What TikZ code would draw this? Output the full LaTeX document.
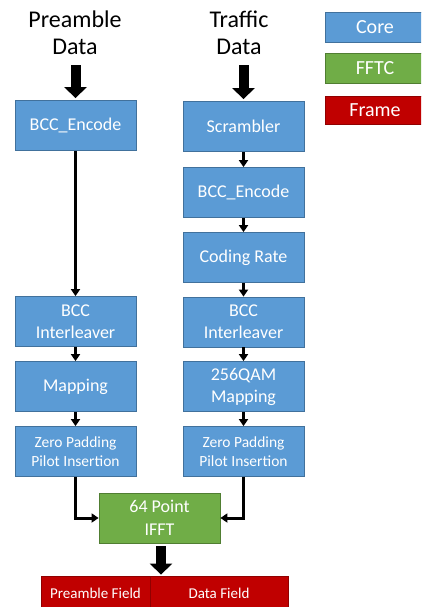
\documentclass[tikz,border=0pt]{standalone}
\usepackage{fontspec}
\setmainfont{Carlito}
\usetikzlibrary{arrows.meta}
\definecolor{coreblue}{HTML}{5B9BD5}
\definecolor{coreedge}{HTML}{41719C}
\definecolor{fftcgreen}{HTML}{70AD47}
\definecolor{fftcedge}{HTML}{507E32}
\definecolor{framered}{HTML}{C00000}
\definecolor{frameedge}{HTML}{900000}
\begin{document}
\begin{tikzpicture}[x=1pt,y=-1pt,
  basebox/.style={line width=0.8pt, text=white, inner sep=0pt, align=center,
    minimum width=121pt, minimum height=50pt, font=\fontsize{18}{22}\selectfont},
  corebox/.style={basebox, draw=coreedge, fill=coreblue},
  smallcore/.style={corebox, font=\fontsize{15.5}{18.5}\selectfont},
  fftcbox/.style={basebox, draw=fftcedge, fill=fftcgreen, font=\fontsize{18}{23}\selectfont},
  framebox/.style={line width=0.8pt, draw=frameedge, fill=framered, text=white, inner sep=0pt,
    minimum height=34pt, font=\fontsize{15}{18}\selectfont},
  legendbox/.style={line width=0.8pt, text=white, inner sep=0pt, minimum width=100pt,
    minimum height=30pt, font=\fontsize{20}{24}\selectfont},
  titletext/.style={inner sep=0pt, align=center, font=\fontsize{24}{27}\selectfont},
  bigarrow/.style={line width=10pt, -{Triangle[width=22pt,length=11pt]}},
  thinarrow/.style={line width=3pt, -{Triangle[width=9pt,length=7pt]}}
]
\clip (0,0) rectangle (421,607);
\fill[white] (0,0) rectangle (421,607);

% titles
\node[titletext] (t1) at (75,33) {Preamble\\Data};
\node[titletext] (t2) at (239,33) {Traffic\\Data};

% left column
\node[corebox] (bcc1) at (75.5,125.5) {BCC\_Encode};
\node[corebox] (int1) at (75.5,321.5) {BCC\\Interleaver};
\node[corebox] (map1) at (75.5,386.5) {Mapping};
\node[smallcore] (zp1) at (75.5,451.5) {Zero Padding\\Pilot Insertion};

% right column
\node[corebox] (scr) at (243.5,126.5) {Scrambler};
\node[corebox] (bcc2) at (243.5,192.5) {BCC\_Encode};
\node[corebox] (rate) at (243.5,257.5) {Coding Rate};
\node[corebox] (int2) at (243.5,322) {BCC\\Interleaver};
\node[corebox] (map2) at (243.5,386.5) {256QAM\\Mapping};
\node[smallcore] (zp2) at (243.5,451.5) {Zero Padding\\Pilot Insertion};

% IFFT
\node[fftcbox] (ifft) at (159.5,518) {64 Point\\IFFT};

% frame
\node[framebox, minimum width=109pt] (pf) at (95.5,593) {Preamble Field};
\node[framebox, minimum width=138pt] (df) at (219,593) {Data Field};

% legend
\node[legendbox, draw=coreedge, fill=coreblue] (lcore) at (375,27) {Core};
\node[legendbox, draw=fftcedge, fill=fftcgreen] (lfftc) at (375,68) {FFTC};
\node[legendbox, draw=frameedge, fill=framered, minimum height=28pt] (lframe) at (375,110) {Frame};

% big arrows
\draw[bigarrow, shorten <=10pt, shorten >=2pt] (t1.south -| bcc1.north) -- (bcc1.north);
\draw[bigarrow, shorten <=10pt, shorten >=2pt] (t2.south -| scr.north) -- (scr.north);
\draw[bigarrow, shorten <=3pt, shorten >=1pt] ([xshift=1.5pt]ifft.south) -- ([xshift=1.5pt]ifft.south |- pf.north);

% thin arrows
\draw[thinarrow] (bcc1) -- (int1);
\draw[thinarrow] (int1) -- (map1);
\draw[thinarrow] (map1) -- (zp1);
\draw[thinarrow] (scr) -- (bcc2);
\draw[thinarrow] (bcc2) -- (rate);
\draw[thinarrow] (rate) -- (int2);
\draw[thinarrow] (int2) -- (map2);
\draw[thinarrow] (map2) -- (zp2);
\draw[thinarrow] (zp1.south) |- (ifft.west);
\draw[thinarrow] (zp2.south) |- (ifft.east);
\end{tikzpicture}
\end{document}
